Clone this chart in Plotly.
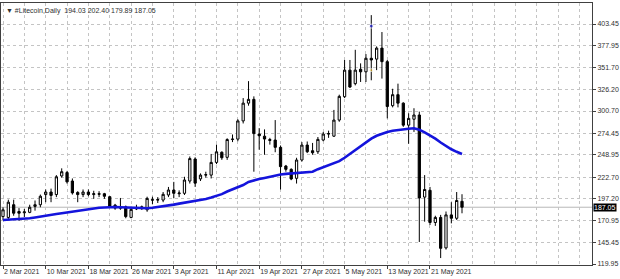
import datetime as dt
import plotly.graph_objects as go

# ---- data ----
start = dt.date(2021, 3, 2)
opens = [176, 175, 190, 182, 180.5, 181, 188, 190, 202, 205,
         202, 224, 228, 218, 204.5, 202, 205, 202, 203, 203,
         199.5, 189.5, 186, 187.5, 175, 185, 187.5, 184, 196, 195.5,
         195.5, 201.5, 207.4, 203, 203.5, 218, 244, 220.5, 225, 225,
         240, 252, 246, 267, 267.5, 289, 310, 314.5, 273.5, 271,
         267, 266.4, 257.8, 235.7, 231.8, 221.2, 242.8, 260.5, 253.8, 252.6,
         266.4, 273.5, 271, 290, 317.6, 349, 333, 350, 347, 363,
         362, 375, 359, 307, 320, 310, 284, 291, 296, 199,
         207, 169, 175, 139, 178, 174, 194.03]
highs = [187, 196, 196, 186, 185, 190, 195, 202, 208, 209,
         225, 233, 230, 221, 206, 208, 208, 206.5, 206, 204,
         200, 191, 198, 189, 187.6, 190, 189, 199.5, 199.5, 199,
         205, 211, 217, 207, 223, 247, 246, 227, 229, 250,
         261, 253, 268.5, 273, 291, 316, 336, 318, 280.5, 279,
         269, 290, 260, 237, 233, 245.5, 264, 264.7, 263, 270,
         276, 277.5, 302, 320, 361, 361, 373, 357, 368, 414,
         377, 394, 361, 327, 333, 311, 298, 304, 300, 225,
         211, 177, 178, 182, 193, 205, 202.40]
lows = [172, 172, 177, 171, 175.5, 180, 183, 187, 193, 193,
        199, 222, 215, 202, 193, 199, 200, 197, 199, 197,
        187, 184, 184, 174, 174, 183.7, 184, 181.7, 190.5, 192,
        193, 199, 197.6, 199, 201.5, 215, 211, 218, 222, 221,
        238, 243, 243, 264, 265, 286, 307, 229, 255, 249,
        261, 252, 208, 229, 219, 215, 241, 251, 249, 250,
        265, 269, 270, 288, 316, 328, 331, 335, 335, 337,
        349, 339, 292, 305, 305, 282, 262, 276, 146, 170,
        166, 165, 127, 137, 168, 172, 179.89]
closes = [184, 193, 180, 180, 181.5, 187, 190, 200, 205, 201,
          223, 229, 217, 204, 202, 205, 202, 203, 202.5, 200,
          188, 186, 186.5, 176, 184.5, 186.5, 185.3, 197.5, 195.5, 196,
          202.3, 207.4, 203.5, 203.8, 219.2, 244.5, 215.5, 225, 225.5, 240,
          252.5, 245.5, 267, 267.5, 289, 310, 314.5, 274, 271.5, 267.6,
          266, 257.8, 235, 231.8, 220.4, 242.8, 260.5, 252.6, 251.4, 267.2,
          273.5, 274, 290, 318, 349, 329, 349, 347, 363, 361,
          375, 359, 306, 320, 310, 284, 292, 296, 198, 208,
          169, 175, 138.5, 178, 174, 195, 187.05]
ma_values = [172, 172.3, 172.6, 173, 173.5, 174, 175, 175.8, 176.8, 178,
             179, 180, 181, 182.3, 183.3, 184.3, 185.2, 186, 186.5, 186.8,
             187.2, 187.3, 187.1, 186.8, 186.4, 186.1, 185.8, 185.9, 186.5, 187.2,
             188.2, 189.2, 190.1, 191.3, 192.4, 193.2, 194, 195.5, 196.8, 198.5,
             200.6, 202.5, 205.6, 208, 211, 213.3, 217, 219, 220.3, 221.6,
             223.2, 224.6, 225.7, 226.4, 226.9, 227.2, 227.4, 227.7, 229, 232,
             234.5, 237, 239.5, 241.5, 245.5, 250, 255, 260, 264.5, 268,
             271.5, 274, 276, 277.5, 278.5, 279, 279.8, 280.3, 278.5, 275.5,
             272, 268, 263.5, 259, 255.5, 252.5, 250]
dates = [start + dt.timedelta(days=i) for i in range(len(opens))]

x_tick_dates = ["2021-03-02", "2021-03-10", "2021-03-18", "2021-03-26", "2021-04-03",
                "2021-04-11", "2021-04-19", "2021-04-27", "2021-05-05", "2021-05-13",
                "2021-05-21"]
x_tick_text = ["2 Mar 2021", "10 Mar 2021", "18 Mar 2021", "26 Mar 2021", "3 Apr 2021",
               "11 Apr 2021", "19 Apr 2021", "27 Apr 2021", "5 May 2021", "13 May 2021",
               "21 May 2021"]
y_ticks = [119.95, 145.45, 170.95, 197.20, 222.70, 248.95, 274.45, 300.70,
           326.20, 351.70, 377.95, 403.45]
y_tick_text = ["%.2f" % v for v in y_ticks]

last_price = 187.05
marker_dates = [dt.date(2021, 5, 10), dt.date(2021, 5, 10)]
marker_prices = [401, 349]
header = "\u25BC #Litecoin,Daily  194.03 202.40 179.89 187.05"

FONT = "Liberation Sans"
GRID = "#c4c4c4"

fig = go.Figure()
fig.add_trace(go.Candlestick(
    x=dates, open=opens, high=highs, low=lows, close=closes,
    increasing=dict(line=dict(color="black", width=1), fillcolor="white"),
    decreasing=dict(line=dict(color="black", width=1), fillcolor="black"),
    whiskerwidth=0, showlegend=False, hoverinfo="skip",
))
fig.add_trace(go.Scatter(
    x=dates, y=ma_values, mode="lines",
    line=dict(color="#1414dc", width=2.6), showlegend=False, hoverinfo="skip",
))
fig.add_trace(go.Scatter(
    x=marker_dates, y=marker_prices, mode="markers",
    marker=dict(color=["#2020d0", "#e0b020"], size=[4, 3]),
    showlegend=False, hoverinfo="skip",
))

fig.add_hline(y=last_price, line=dict(color="#b8b8b8", width=1), layer="below")

fig.add_annotation(
    x=0, y=1, xref="paper", yref="paper", xanchor="left", yanchor="top",
    xshift=3, yshift=-2, text=header, showarrow=False,
    font=dict(family=FONT, size=7, color="#303030"),
)
fig.add_annotation(
    x=1, y=last_price, xref="paper", yref="y", xanchor="left", yanchor="middle",
    xshift=1, text="187.05", showarrow=False, bgcolor="black", borderpad=0,
    font=dict(family=FONT, size=7, color="white"),
)

fig.update_layout(
    width=620, height=279,
    margin=dict(l=1, r=28, t=3, b=14),
    paper_bgcolor="white", plot_bgcolor="white",
    boxgap=0.4,
    xaxis=dict(
        type="date",
        range=["2021-03-01 15:00", "2021-06-20 08:30"],
        rangeslider=dict(visible=False),
        tickmode="array", tickvals=x_tick_dates, ticktext=x_tick_text,
        tickangle=0, automargin=False,
        ticklabelposition="outside right",
        ticks="outside", ticklen=3, tickcolor="#404040",
        tickfont=dict(family=FONT, size=7, color="#303030"),
        showgrid=True, gridcolor=GRID, griddash="3px,3px", gridwidth=1,
        minor=dict(dtick=4 * 86400000, tick0="2021-03-02", showgrid=True,
                   gridcolor=GRID, griddash="3px,3px", gridwidth=1, ticks=""),
        showline=True, linecolor="#404040", linewidth=1, mirror=True,
        zeroline=False, fixedrange=True,
    ),
    yaxis=dict(
        side="right", automargin=False,
        range=[118.8, 428.3],
        tickmode="array", tickvals=y_ticks, ticktext=y_tick_text,
        ticks="outside", ticklen=3, tickcolor="#404040",
        tickfont=dict(family=FONT, size=7, color="#303030"),
        showgrid=True, gridcolor=GRID, griddash="3px,3px", gridwidth=1,
        showline=True, linecolor="#404040", linewidth=1, mirror=True,
        zeroline=False, fixedrange=True,
    ),
)

fig.write_html("out.html")
